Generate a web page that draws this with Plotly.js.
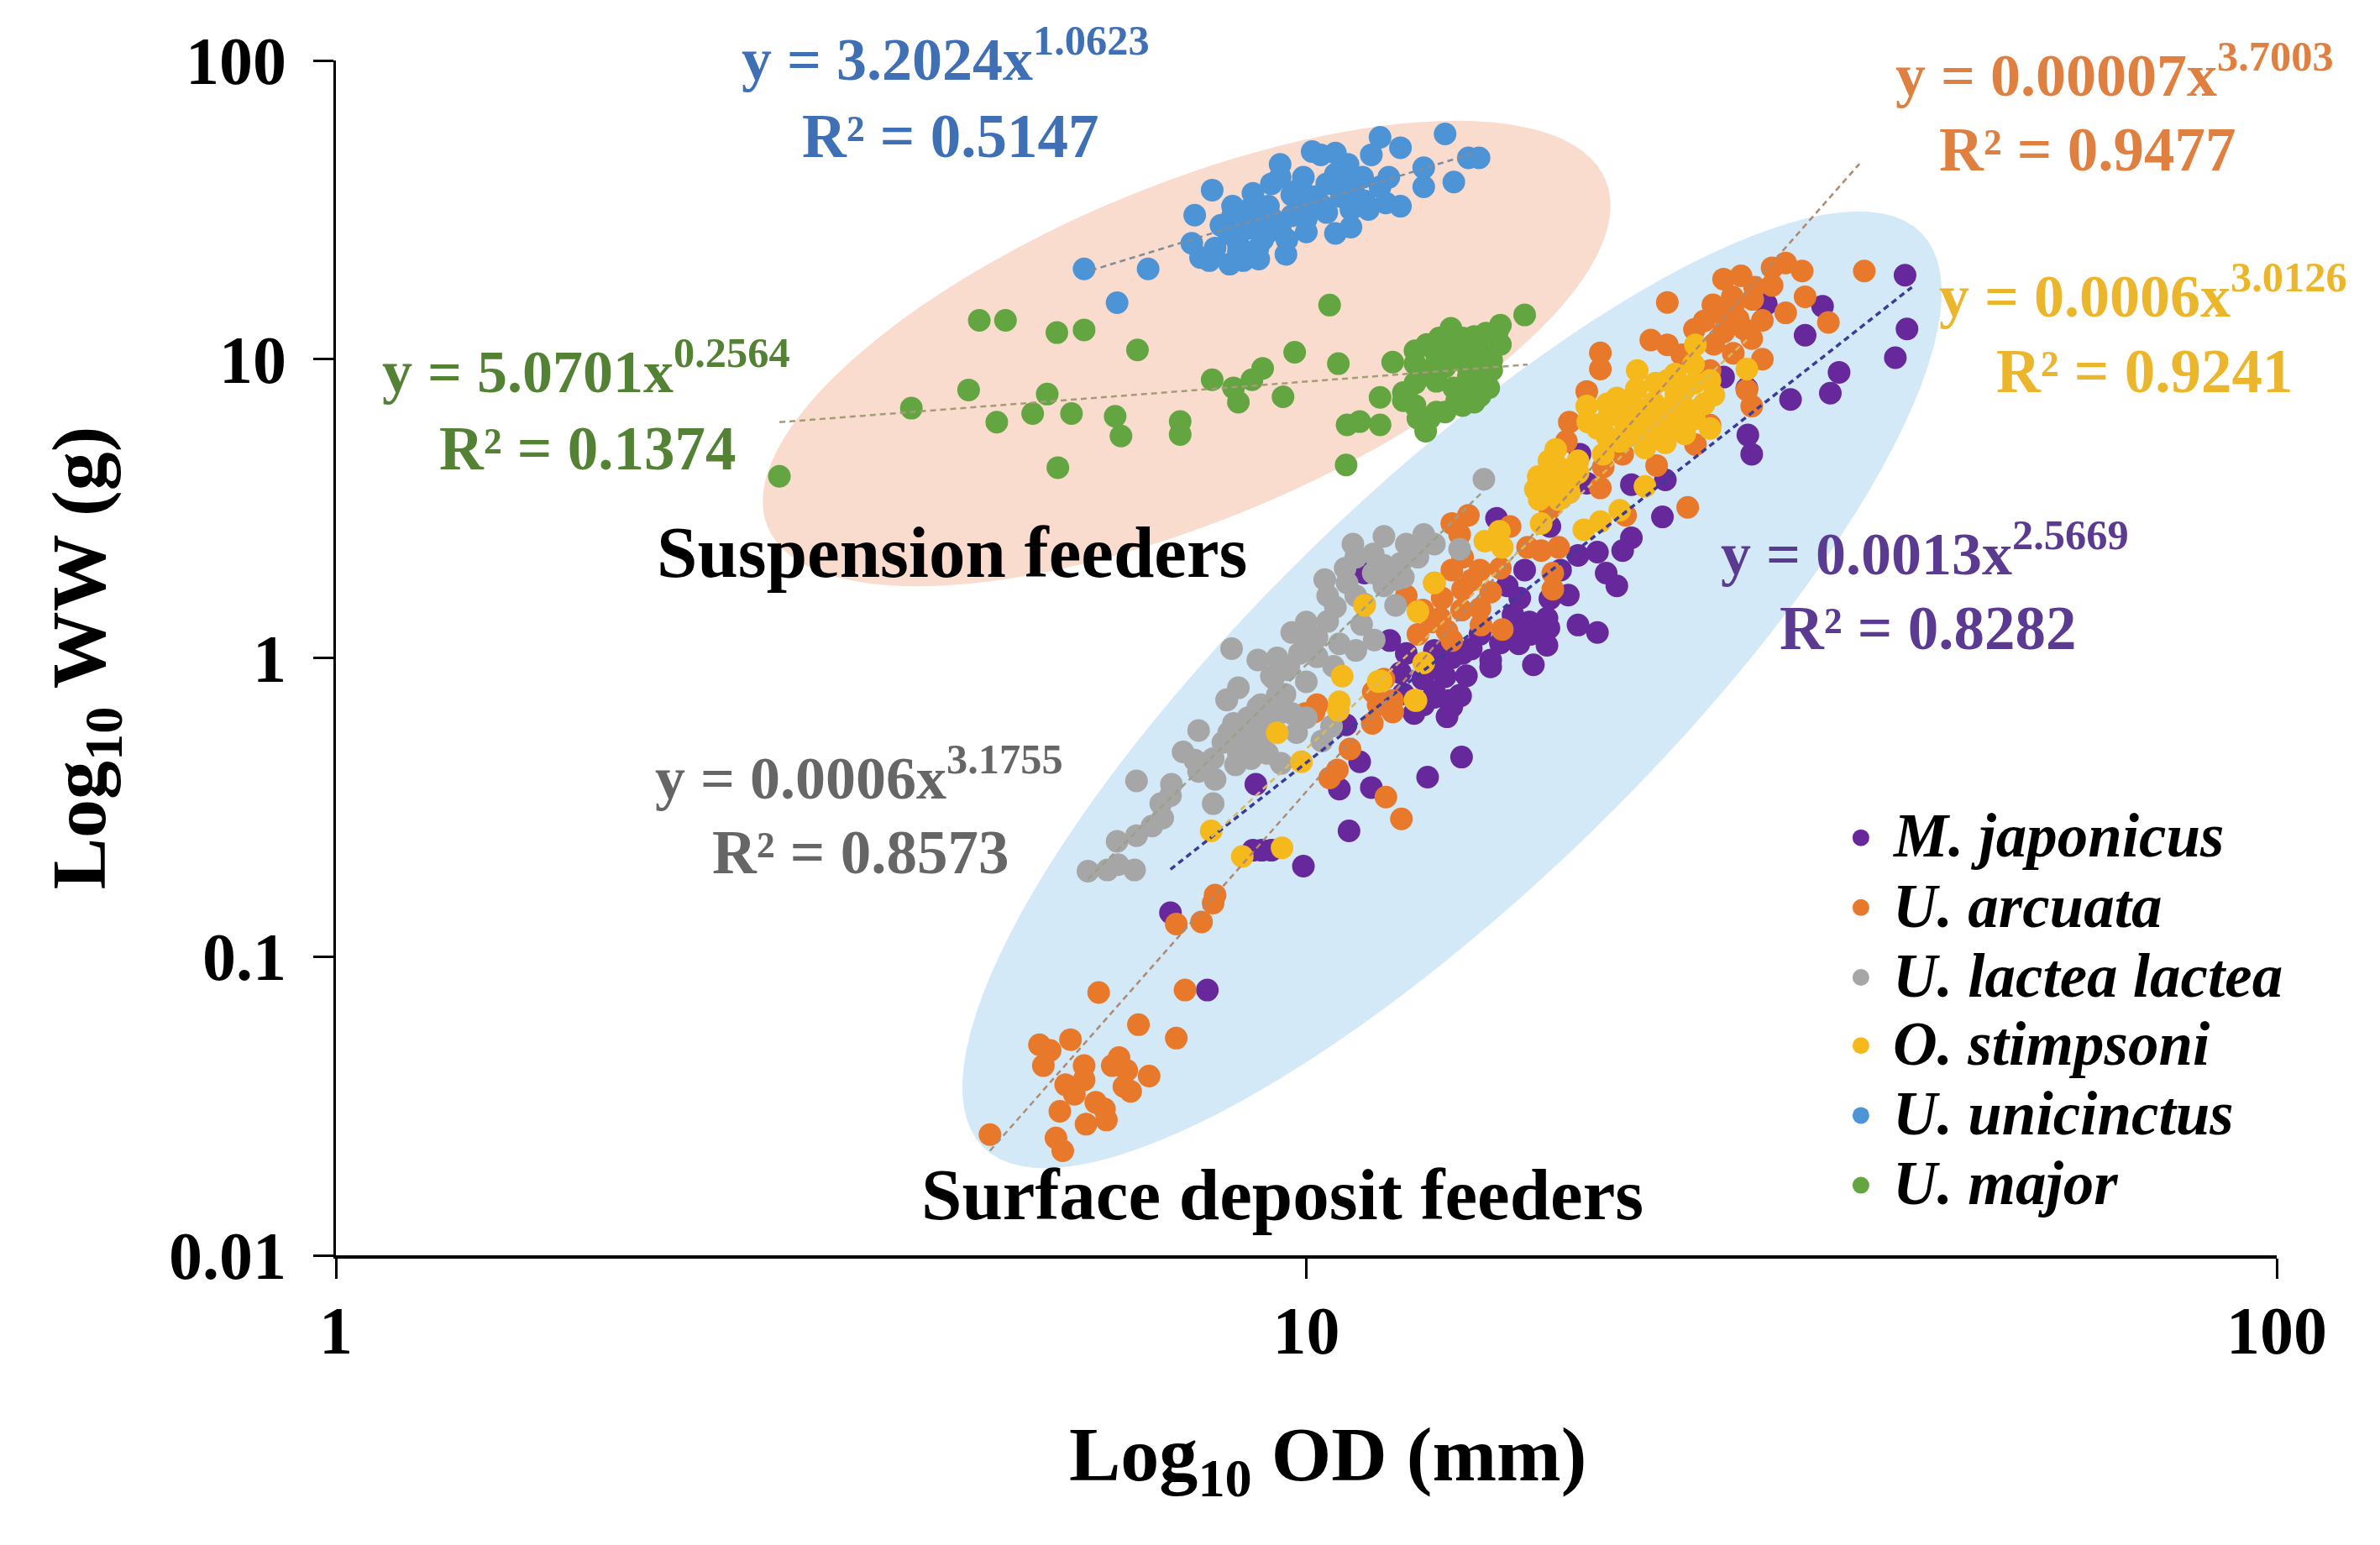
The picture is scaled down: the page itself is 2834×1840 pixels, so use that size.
<!DOCTYPE html>
<html><head><meta charset="utf-8">
<script src="https://cdn.plot.ly/plotly-3.0.1.min.js"></script>
<style>html,body{margin:0;padding:0;background:#fff}</style></head>
<body><div id="chart"></div>
<script>
// Pairs: [log10 OD (mm), log10 WW (g)]
const japonicus = [[1.617,1.281],[1.474,1.184],[1.532,1.177],[1.514,1.080],[1.619,1.101],[1.607,1.005],[1.549,.956],[1.540,.886],[1.499,.865],[1.454,.902],[1.455,.746],[1.459,.682],[1.430,.940],[1.282,.682],[1.370,.596],[1.335,.580],[1.289,.585],[1.196,.467],[1.251,.440],[1.367,.472],[1.335,.402],[1.326,.359],[1.300,.354],[1.280,.343],[1.309,.284],[1.320,.241],[1.262,.294],[1.225,.294],[1.207,.241],[1.251,.198],[1.248,.133],[1.213,.144],[1.300,.085],[1.231,.079],[1.248,.042],[1.219,.047],[1.179,.079],[1.161,.015],[1.190,-.007],[1.234,-.023],[1.132,.025],[1.103,.015],[1.086,.058],[1.138,-.039],[1.097,-.050],[1.132,-.114],[1.158,-.125],[1.150,-.163],[1.121,-.157],[1.060,.284],[1.12,-.07],[1.10,-.12],[.860,-.853],[.997,-.697],[.898,-1.112],[1.044,-.579],[1.125,-.399],[1.160,-.332],[1.055,-.348],[1.034,-.439],[1.067,-.434],[.948,-.423],[.954,-.644],[.945,-.644],[.964,-.644],[1.145,-.197],[1.132,-.132],[1.159,-.127],[1.147,-.143],[1.111,-.186],[1.041,-.224],[1.143,-.063],[1.22,.20],[1.25,.10],[1.20,.05],[1.17,.03],[1.15,.0],[1.27,.21],[1.23,.12],[1.28,.11],[1.19,-.03],[1.165,-.06],[1.21,.09]];
const arcuata = [[1.575,1.295],[1.372,1.190],[1.494,1.322],[1.480,1.306],[1.511,1.295],[1.430,1.268],[1.448,1.279],[1.462,1.241],[1.480,1.247],[1.439,1.209],[1.419,1.182],[1.514,1.209],[1.494,1.155],[1.538,1.123],[1.410,1.128],[1.427,1.155],[1.445,1.134],[1.430,1.091],[1.451,1.101],[1.459,1.069],[1.355,1.064],[1.372,1.048],[1.387,1.015],[1.416,.962],[1.454,.897],[1.459,.843],[1.303,1.021],[1.303,.967],[1.289,.892],[1.271,.789],[1.268,.725],[1.401,.714],[1.416,.779],[1.361,.644],[1.303,.569],[1.393,.504],[1.242,.531],[1.251,.499],[1.306,.639],[1.326,.682],[1.167,.477],[1.150,.450],[1.158,.413],[1.210,.440],[1.329,.477],[1.260,.370],[1.242,.359],[1.228,.370],[1.179,.294],[1.161,.337],[1.150,.294],[1.132,.251],[1.161,.230],[1.179,.165],[1.254,.284],[1.254,.230],[1.202,.095],[1.138,.133],[1.150,.058],[1.115,.079],[1.103,.208],[1.080,-.071],[1.069,-.114],[1.074,-.157],[1.011,-.157],[1.33,.75],[1.36,.82],[.674,-1.596],[.742,-1.607],[.749,-1.650],[.773,-1.561],[.794,-1.547],[.792,-1.510],[.783,-1.488],[.746,-1.518],[.761,-1.461],[.752,-1.429],[.771,-1.413],[.771,-1.365],[.729,-1.365],[.736,-1.314],[.725,-1.295],[.757,-1.278],[.800,-1.365],[.807,-1.338],[.815,-1.381],[.819,-1.451],[.812,-1.435],[.838,-1.400],[.827,-1.228],[.866,-1.273],[.786,-1.120],[.875,-1.112],[.866,-.891],[.892,-.884],[.904,-.821],[.906,-.794],[1.098,-.539],[1.082,-.466],[1.024,-.402],[1.032,-.375],[1.045,-.305],[1.068,-.219],[1.089,-.181],[1.008,-.181],[.999,-.186],[1.089,-.143],[1.17,.26],[1.19,.22],[1.14,.20],[1.16,.16],[1.20,.30],[1.13,.12],[1.18,.11],[1.12,.16],[1.145,.09],[1.42,1.05],[1.44,1.02],[1.47,1.00],[1.40,1.10],[1.44,1.18],[1.47,1.13],[1.46,1.20]];
const lactea = [[1.183,.598],[1.080,.407],[1.048,.381],[1.121,.413],[1.132,.381],[1.158,.364],[1.103,.381],[1.069,.348],[1.051,.337],[1.019,.262],[1.042,.251],[1.069,.284],[1.097,.316],[1.115,.337],[1.080,.241],[1.022,.208],[1.051,.208],[1.092,.262],[1.022,.122],[1.057,.112],[1.092,.176],[.985,.085],[.923,.031],[.950,-.007],[.964,-.061],[1.011,.068],[.993,.015],[1.034,.047],[.982,-.028],[1.011,.004],[1.051,.025],[.918,-.141],[.953,-.157],[.970,-.125],[1.028,-.028],[.775,-.714],[.795,-.710],[.806,-.692],[.823,-.710],[.805,-.614],[.825,-.595],[.841,-.563],[.852,-.536],[.850,-.488],[.860,-.461],[.861,-.423],[.825,-.412],[.889,-.243],[.918,-.140],[.925,-.219],[.914,-.283],[.873,-.315],[.885,-.342],[.889,-.380],[.906,-.407],[.904,-.488],[.927,-.358],[.943,-.337],[.974,-.353],[.950,-.165],[.958,-.229],[.935,-.283],[.954,-.283],[1.016,-.278],[1.026,-.229],[.978,-.122],[.966,-.068],[.985,-.186],[.943,-.251],[.904,-.337],[1.04,.30],[1.06,.18],[1.08,.31],[1.00,.12],[1.03,.17],[1.07,.06],[1.10,.27],[1.12,.38],[1.00,.05],[.97,.0],[1.00,-.08],[.98,-.04],[.93,-.10],[.96,-.20],[.93,-.32],[.96,-.32],[.99,-.25],[.92,-.25],[.97,-.19],[1.00,-.20],[.94,-.20]];
const stimpsoni = [[1.341,.962],[1.372,.929],[1.401,1.048],[1.399,.983],[1.416,.929],[1.454,.967],[1.289,.843],[1.317,.832],[1.335,.843],[1.358,.854],[1.381,.886],[1.393,.832],[1.416,.768],[1.387,.789],[1.358,.800],[1.329,.779],[1.300,.768],[1.312,.811],[1.346,.768],[1.375,.768],[1.349,.703],[1.323,.725],[1.306,.682],[1.257,.698],[1.260,.639],[1.239,.607],[1.274,.607],[1.236,.564],[1.271,.553],[1.260,.585],[1.349,.574],[1.242,.450],[1.286,.429],[1.303,.456],[1.323,.494],[1.199,.424],[1.184,.391],[1.202,.370],[1.132,.251],[1.115,.155],[1.060,.176],[1.121,-.017],[1.037,-.061],[1.077,-.077],[1.112,-.141],[1.034,-.147],[1.31,.85],[1.30,.78],[1.345,.83],[1.37,.83],[1.39,.90],[1.41,.85],[1.36,.74],[1.25,.66],[1.28,.66],[.970,-.251],[1.033,-.176],[1.074,-.079],[1.113,-.143],[.995,-.348],[.902,-.579],[.934,-.665],[.975,-.636],[1.32,.87],[1.34,.90],[1.36,.92],[1.38,.95],[1.40,.92],[1.33,.74],[1.35,.80],[1.37,.72],[1.39,.75],[1.40,.80],[1.31,.74],[1.29,.79],[1.42,.88],[1.38,.86],[1.36,.78],[1.25,.60],[1.27,.58],[1.25,.56],[1.24,.53],[1.28,.62],[1.26,.53]];
const unicinctus = [[.771,1.302],[.837,1.302],[.805,1.189],[1.143,1.754],[1.076,1.743],[1.097,1.708],[1.167,1.674],[1.178,1.674],[1.152,1.593],[1.121,1.641],[1.121,1.577],[1.006,1.695],[1.030,1.690],[.973,1.652],[1.067,1.684],[.903,1.566],[.885,1.482],[.924,1.512],[.945,1.555],[1.036,1.544],[1.097,1.512],[1.064,1.501],[1.046,1.442],[1.030,1.421],[1.000,1.426],[.979,1.351],[.951,1.335],[.921,1.318],[.891,1.340],[.882,1.388],[.906,1.372],[.930,1.383],[.939,1.437],[.912,1.448],[.924,1.480],[.961,1.512],[.964,1.587],[.973,1.609],[.991,1.566],[.997,1.609],[1.015,1.684],[1.043,1.652],[1.058,1.609],[1.076,1.577],[1.039,1.587],[1.021,1.587],[1.009,1.544],[.997,1.512],[.985,1.480],[.973,1.437],[.961,1.426],[1.021,1.491],[1.046,1.501],[1.082,1.523],[1.085,1.609],[1.015,1.517],[.945,1.46],[.955,1.40],[.90,1.33],[.935,1.33],[.965,1.47],[1.0,1.47],[.985,1.55],[1.05,1.55],[.92,1.42],[.94,1.50],[1.03,1.62],[1.06,1.53],[1.0,1.55],[.98,1.40],[.95,1.37],[.93,1.36]];
const major = [[.457,.608],[.593,.836],[.652,.897],[.681,.789],[.718,.818],[.733,.883],[.758,.818],[.803,.809],[.809,.743],[.870,.791],[.870,.748],[.744,.637],[.663,1.130],[.690,1.130],[.743,1.089],[.771,1.098],[.826,1.031],[.903,.931],[.925,.904],[.930,.856],[.944,.931],[.955,.969],[.988,1.023],[.976,.874],[1.033,.985],[1.024,1.181],[1.041,.646],[1.042,.780],[1.055,.791],[1.076,.872],[1.076,.780],[1.089,.990],[1.100,.888],[1.112,1.028],[1.123,.759],[1.115,.802],[1.225,1.148],[1.200,1.114],[1.112,.985],[1.118,.953],[1.112,.920],[1.124,1.049],[1.137,1.071],[1.149,1.103],[1.161,1.071],[1.173,1.076],[1.185,1.087],[1.197,1.093],[1.200,1.049],[1.134,1.017],[1.149,1.028],[1.167,1.028],[1.182,1.017],[1.191,.996],[1.191,.963],[1.179,.974],[1.164,.985],[1.149,.996],[1.134,.985],[1.134,.926],[1.167,.942],[1.182,.931],[1.188,.904],[1.167,.899],[1.152,.904],[1.173,.856],[1.161,.845],[1.143,.823],[1.127,.802],[1.112,.845],[1.103,.888],[1.179,.877],[1.100,.861],[1.134,.823],[1.155,.861],[1.143,.974]];

// Trendline end points (same log10 units)
const trendJaponicus = [[.860,-.708],[1.624,1.241]];
const trendArcuata = [[.674,-1.650],[1.570,1.654]];
const trendLactea = [[.775,-.74],[1.183,.56]];
const trendStimpsoni = [[.902,-.60],[1.454,1.065]];
const trendUnicinctus = [[.778,1.297],[1.173,1.69]];
const trendMajor = [[.457,.789],[1.228,.982]];

const seriesNames = ['M. japonicus','U. arcuata','U. lactea lactea','O. stimpsoni','U. unicinctus','U. major'];
const seriesColors = ['#66289b','#e8792b','#a6a6a6','#f6b91c','#4d94d6','#63a540'];
const trendColors = ['#3c3a9c','#b08a70','#9aa08a','#d8b860','#808c9c','#a49c78'];
const seriesPoints = [japonicus, arcuata, lactea, stimpsoni, unicinctus, major];
const seriesTrends = [trendJaponicus, trendArcuata, trendLactea, trendStimpsoni, trendUnicinctus, trendMajor];

const xTickVals = [1,10,100], xTickText = ['1','10','100'];
const yTickVals = [0.01,0.1,1,10,100], yTickText = ['0.01','0.1','1','10','100'];

const FONT = '"Liberation Serif", serif';
const L = 400, R = 2711, T = 72, B = 1495;
const S = 2834/1568;                // reference-thumbnail pixels to page pixels
const px = x => (x*S - L)/(R-L);
const py = y => (B - y*S)/(B-T);

const val = v => Math.pow(10, v);
const traces = [];
seriesPoints.forEach((pts,i) => traces.push({
  type:'scatter', mode:'markers', name:seriesNames[i], showlegend:false,
  x:pts.map(p=>val(p[0])), y:pts.map(p=>val(p[1])),
  marker:{color:seriesColors[i], size:27, line:{width:0}}
}));
seriesTrends.forEach((pts,i) => traces.push({
  type:'scatter', mode:'lines', name:seriesNames[i]+' trend', showlegend:false,
  x:pts.map(p=>val(p[0])), y:pts.map(p=>val(p[1])),
  line:{color:trendColors[i], width:i===0?3.5:2.5, dash:'7px,5px'}
}));

// Feeding-group ellipses, in page pixels
function ellipse(cx,cy,a,b,deg){
  const t = deg*Math.PI/180; let d='';
  for(let k=0;k<=120;k++){
    const u = k/120*2*Math.PI;
    const X = cx + a*Math.cos(u)*Math.cos(t) + b*Math.sin(u)*Math.sin(t);
    const Y = cy - a*Math.cos(u)*Math.sin(t) + b*Math.sin(u)*Math.cos(t);
    d += (k?'L':'M') + ((X-L)/(R-L)).toFixed(5) + ',' + ((B-Y)/(B-T)).toFixed(5);
  }
  return d+'Z';
}
const shapes = [
  {type:'path', xref:'paper', yref:'paper', layer:'below', path:ellipse(1413,421,540,200,22.5), fillcolor:'#fadccf', line:{width:0}},
  {type:'path', xref:'paper', yref:'paper', layer:'below', path:ellipse(1729,821.5,780,237,44.2), fillcolor:'#d3e9f7', line:{width:0}}
];

const eqTexts = [
  ['y = 3.2024x<sup>1.0623</sup>','R² = 0.5147','#3f6fb5',623,36,626,90],
  ['y = 0.00007x<sup>3.7003</sup>','R² = 0.9477','#e08040',1393,47,1375,99],
  ['y = 0.0006x<sup>3.0126</sup>','R² = 0.9241','#ecb62c',1412,192,1413,245],
  ['y = 0.0013x<sup>2.5669</sup>','R² = 0.8282','#5b3a92',1268,362,1270,414],
  ['y = 0.0006x<sup>3.1755</sup>','R² = 0.8573','#666666',566,510,567,562],
  ['y = 5.0701x<sup>0.2564</sup>','R² = 0.1374','#548235',386,242,387,296]
];
const annotations = [];
const note = (text,x,y,color,size,extra) => annotations.push(Object.assign({
  text, xref:'paper', yref:'paper', x:px(x), y:py(y), xanchor:'center', yanchor:'middle',
  showarrow:false, font:{family:FONT, size, color, weight:'bold'}
},extra||{}));
eqTexts.forEach(e => { note(e[0],e[3],e[4],e[2],72); note(e[1],e[5],e[6],e[2],73); });
note('Suspension feeders',627,364,'#000',87);
note('Surface deposit feeders',845,787,'#000',87);
note('Log<sub>10</sub> OD (mm)',875,962,'#000',92);

// Hand-placed key to match the reference's tight row spacing
const keyRowsY = [551,597,643,688,734,780];
seriesNames.forEach((n,i) => {
  annotations.push({text:n, xref:'paper', yref:'paper', x:px(1246), y:py(keyRowsY[i]), xanchor:'left', yanchor:'middle',
    showarrow:false, font:{family:FONT,size:73,color:'#000',weight:'bold',style:'italic'}});
  shapes.push({type:'circle', xref:'paper', yref:'paper', xsizemode:'pixel', ysizemode:'pixel',
    xanchor:px(1226), yanchor:py(keyRowsY[i]+1), x0:-10,x1:10,y0:-10,y1:10, fillcolor:seriesColors[i], line:{width:0}});
});

const axisCommon = {type:'log', showgrid:false, zeroline:false, showline:true, linecolor:'#000', ticks:'outside',
  ticklen:24, tickwidth:3, tickcolor:'#000', tickmode:'array', tickfont:{family:FONT,size:80,color:'#000',weight:'bold'}};
const layout = {
  width:2834, height:1840, autosize:false, paper_bgcolor:'#fff', plot_bgcolor:'rgba(0,0,0,0)',
  margin:{l:L, r:2834-R, t:T, b:1840-B, pad:0}, showlegend:false,
  xaxis:Object.assign({},axisCommon,{range:[0,2], linewidth:4, tickvals:xTickVals, ticktext:xTickText, ticklabelstandoff:-7}),
  yaxis:Object.assign({},axisCommon,{range:[-2,2], linewidth:3, tickvals:yTickVals, ticktext:yTickText, ticklabelstandoff:16,
    title:{text:'Log<sub>10</sub> WW (g)', font:{family:FONT,size:92,color:'#000',weight:'bold'}, standoff:45}}),
  shapes, annotations
};
Plotly.newPlot('chart', traces, layout, {staticPlot:true, displayModeBar:false});
</script></body></html>
